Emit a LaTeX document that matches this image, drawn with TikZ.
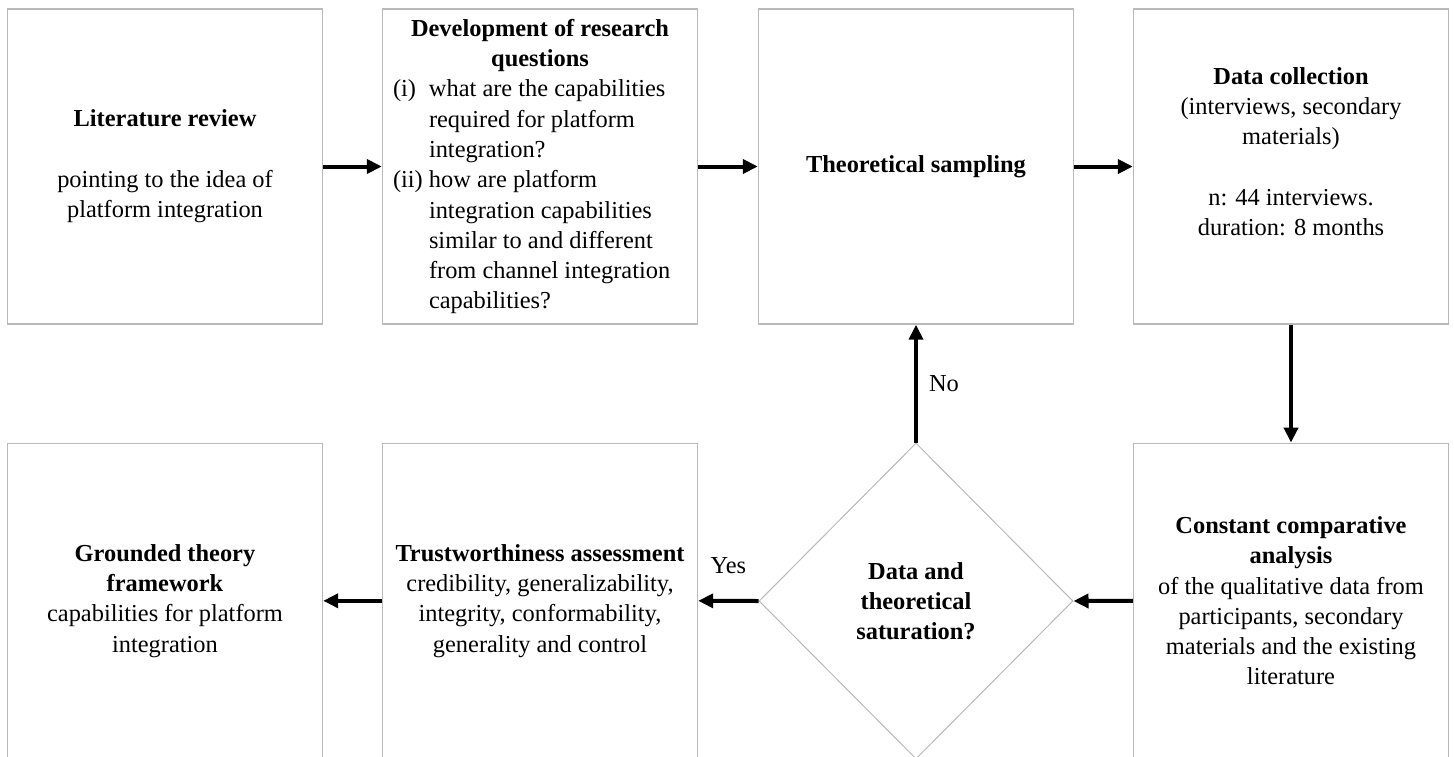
\documentclass[tikz,border=0pt]{standalone}
\usepackage{fontspec}
\setmainfont{Liberation Serif}
\usetikzlibrary{arrows.meta,shapes.geometric}
\definecolor{boxgray}{RGB}{185,185,185}
\tikzset{
  txt/.style={font=\fontsize{24.4pt}{30.3pt}\selectfont},
  stagebox/.style={txt, draw=boxgray, line width=1.4pt, fill=white,
    minimum width=315pt, minimum height=315pt, inner sep=0pt, align=center},
  decision/.style={txt, diamond, draw=boxgray, line width=1pt, fill=white,
    minimum width=314pt, minimum height=316pt, inner sep=0pt, align=center},
  flow/.style={line width=4pt, -{Triangle[length=15pt,width=14pt]}},
  lbl/.style={txt, inner sep=3pt}
}
\begin{document}
\begin{tikzpicture}[x=1pt,y=-1pt]
  \useasboundingbox (0,0) rectangle (1454,756);

  % top row
  \node[stagebox] (lit) at (165,166.5)
    {\textbf{Literature review}\\[30.3pt]pointing to the idea of\\platform integration};
  \node[stagebox] (rq) at (540,166.5) {%
    \begin{tabular}{@{}p{36pt}@{}p{258pt}@{}}
      \multicolumn{2}{@{}c@{}}{\textbf{Development of research}}\\
      \multicolumn{2}{@{}c@{}}{\textbf{questions}}\\
      (i)  & what are the capabilities\\
           & required for platform\\
           & integration?\\
      (ii) & how are platform\\
           & integration capabilities\\
           & similar to and different\\
           & from channel integration\\
           & capabilities?
    \end{tabular}};
  \node[stagebox] (ts) at (916,166.5) {\textbf{Theoretical sampling}};
  \node[stagebox] (dc) at (1291,166.5)
    {\textbf{Data collection}\\(interviews, secondary\\materials)\\[30.3pt]n: 44 interviews.\\duration: 8 months\\\mbox{}};

  % bottom row
  \node[stagebox] (gt) at (165,600.8)
    {\textbf{Grounded theory}\\\textbf{framework}\\capabilities for platform\\integration};
  \node[stagebox] (ta) at (540,600.8)
    {\textbf{Trustworthiness assessment}\\credibility, generalizability,\\integrity, conformability,\\generality and control};
  \node[decision] (sat) at (916,601)
    {\textbf{Data and}\\\textbf{theoretical}\\\textbf{saturation?}};
  \node[stagebox] (cca) at (1291,600.8)
    {\textbf{Constant comparative}\\\textbf{analysis}\\of the qualitative data from\\participants, secondary\\materials and the existing\\literature};

  % connectors
  \draw[flow] (lit.east) -- (rq.west);
  \draw[flow] (rq.east) -- (ts.west);
  \draw[flow] (ts.east) -- (dc.west);
  \draw[flow] (dc.south) -- (cca.north);
  \draw[flow] (cca.west) -- (sat.east);
  \draw[flow] (sat.west) -- node[lbl, above=22pt] {Yes} (ta.east);
  \draw[flow] (ta.west) -- (gt.east);
  \draw[flow] (sat.north) -- node[lbl, right=8pt] {No} (ts.south);
\end{tikzpicture}
\end{document}
